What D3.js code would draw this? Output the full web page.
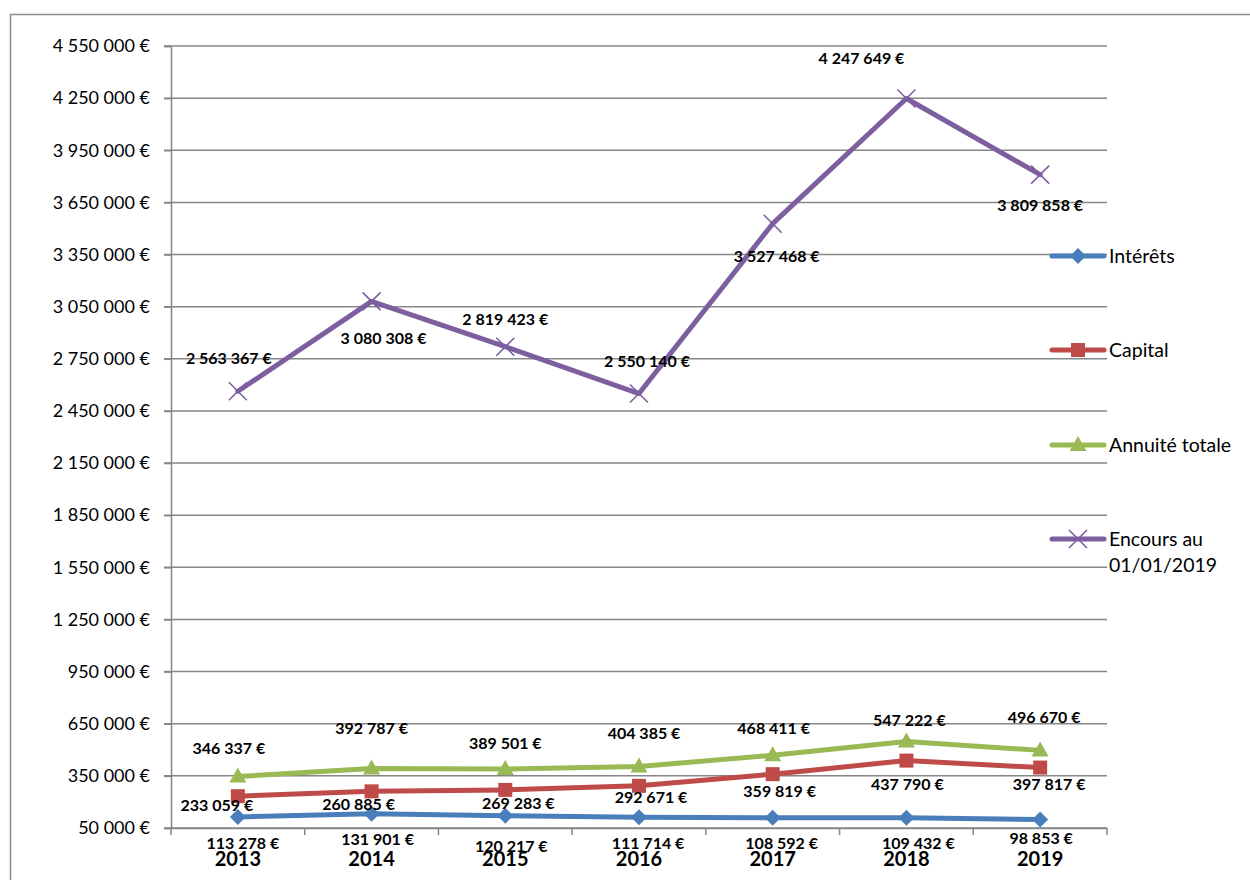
<!DOCTYPE html>
<html><head><meta charset="utf-8">
<script src="https://cdn.jsdelivr.net/npm/d3@7/dist/d3.min.js"></script>
<style>body{margin:0;background:#fff;} svg{display:block;}</style>
</head><body>
<svg id="c" width="1250" height="880"></svg>
<script>
const years = ["2013","2014","2015","2016","2017","2018","2019"];
const interets = [113278,131901,120217,111714,108592,109432,98853];
const capital = [233059,260885,269283,292671,359819,437790,397817];
const annuite = [346337,392787,389501,404385,468411,547222,496670];
const encours = [2563367,3080308,2819423,2550140,3527468,4247649,3809858];
const yTicks = [50000,350000,650000,950000,1250000,1550000,1850000,2150000,2450000,2750000,3050000,3350000,3650000,3950000,4250000,4550000];
const seriesNames = ["Intérêts","Capital","Annuité totale","Encours au 01/01/2019"];

// label offsets (dx, dy) relative to point, per series
const labelOffsets = [
  [[5,26],[6,26],[6,31],[9,26],[9,26],[12,26],[1,19]],
  [[-21,9],[-13,13],[13,14],[12,12],[7,17],[1,24],[9,17]],
  [[-9,-28],[0,-40],[0,-26],[5,-33],[1,-27],[3,-21],[4,-33]],
  [[-9,-33],[12,37],[0,-27],[8,-32],[4,33],[-45,-40],[0,31]]
];

const svg = d3.select("#c");
const font = "Lato, 'Open Sans', sans-serif";
const pLeft = 171, pRight = 1107, pTop = 46, pBottom = 828;

svg.append("rect").attr("x",10.5).attr("y",14.5).attr("width",1300).attr("height",1000)
  .attr("fill","none").attr("stroke","#8c8c8c").attr("stroke-width",1.5);

const x = d3.scaleBand().domain(years).range([pLeft,pRight]);
const y = d3.scaleLinear().domain([50000,4550000]).range([pBottom,pTop]);
const fmt = v => d3.format(",")(v).replace(/,/g," ") + " €";

// gridlines
svg.append("g").selectAll("line").data(yTicks).join("line")
  .attr("x1",pLeft-7).attr("x2",pRight).attr("y1",d=>y(d)).attr("y2",d=>y(d))
  .attr("stroke","#868686").attr("stroke-width",1.5);

// y axis
const ya = svg.append("g").attr("transform",`translate(${pLeft},0)`)
  .call(d3.axisLeft(y).tickValues(yTicks).tickSize(7).tickFormat(fmt));
ya.select(".domain").attr("stroke","#868686").attr("stroke-width",1.5);
ya.selectAll(".tick line").attr("stroke","#868686").attr("stroke-width",1.5);
ya.selectAll("text").attr("font-family",font).attr("font-size",18).attr("fill","#000").attr("x",-21);

// x axis
const xa = svg.append("g").attr("transform",`translate(0,${pBottom})`)
  .call(d3.axisBottom(x).tickSize(0).tickFormat(""));
xa.select(".domain").attr("stroke","#868686").attr("stroke-width",1.5);
svg.append("g").selectAll("line").data(d3.range(years.length+1)).join("line")
  .attr("x1",i=>pLeft+i*x.bandwidth()).attr("x2",i=>pLeft+i*x.bandwidth())
  .attr("y1",pBottom).attr("y2",pBottom+7).attr("stroke","#868686").attr("stroke-width",1.5);
svg.append("g").selectAll("text").data(years).join("text")
  .attr("x",d=>x(d)+x.bandwidth()/2).attr("y",866).attr("text-anchor","middle")
  .attr("font-family",font).attr("font-weight","bold").attr("font-size",20).text(d=>d);

const cx = d => x(d)+x.bandwidth()/2;
const series = [interets,capital,annuite,encours];
const colors = ["#4A7EBB","#BE4B48","#98B954","#7D5FA0"];

function drawMarker(g, k, px, py) {
  const c = colors[k];
  if (k===0) g.append("path").attr("d",`M${px},${py-8}L${px+8},${py}L${px},${py+8}L${px-8},${py}Z`).attr("fill",c);
  else if (k===1) g.append("rect").attr("x",px-7).attr("y",py-7).attr("width",14).attr("height",14).attr("fill",c);
  else if (k===2) g.append("path").attr("d",`M${px},${py-9}L${px+8.5},${py+6}L${px-8.5},${py+6}Z`).attr("fill",c);
  else g.append("path").attr("d",`M${px-9},${py-9}L${px+9},${py+9}M${px+9},${py-9}L${px-9},${py+9}`).attr("stroke",c).attr("stroke-width",1.6);
}

const line = d3.line().x((d,i)=>cx(years[i])).y(d=>y(d));
series.forEach((s,k)=>{
  const g = svg.append("g");
  g.append("path").datum(s).attr("d",line).attr("fill","none").attr("stroke",colors[k])
    .attr("stroke-width",5).attr("stroke-linejoin","round").attr("stroke-linecap","round");
  s.forEach((v,i)=>drawMarker(g,k,cx(years[i]),y(v)));
});
series.forEach((s,k)=>{
  svg.append("g").selectAll("text").data(s).join("text")
    .attr("x",(d,i)=>cx(years[i])+labelOffsets[k][i][0])
    .attr("y",(d,i)=>y(d)+labelOffsets[k][i][1]+5.5)
    .attr("text-anchor","middle").attr("font-family",font).attr("font-weight","bold")
    .attr("font-size",16).text(d=>fmt(d));
});

// legend
const legY = [256,350,445,539];
seriesNames.forEach((n,k)=>{
  const g = svg.append("g");
  g.append("line").attr("x1",1052).attr("x2",1104).attr("y1",legY[k]).attr("y2",legY[k])
    .attr("stroke",colors[k]).attr("stroke-width",5).attr("stroke-linecap","round");
  drawMarker(g,k,1078,legY[k]);
  const t = g.append("text").attr("x",1109).attr("y",legY[k]+7).attr("font-family",font)
    .attr("font-size",19.5);
  if (k===3) {
    t.append("tspan").attr("x",1109).text("Encours au");
    t.append("tspan").attr("x",1109).attr("dy",26).text("01/01/2019");
  } else t.text(n);
});
</script>
</body></html>
